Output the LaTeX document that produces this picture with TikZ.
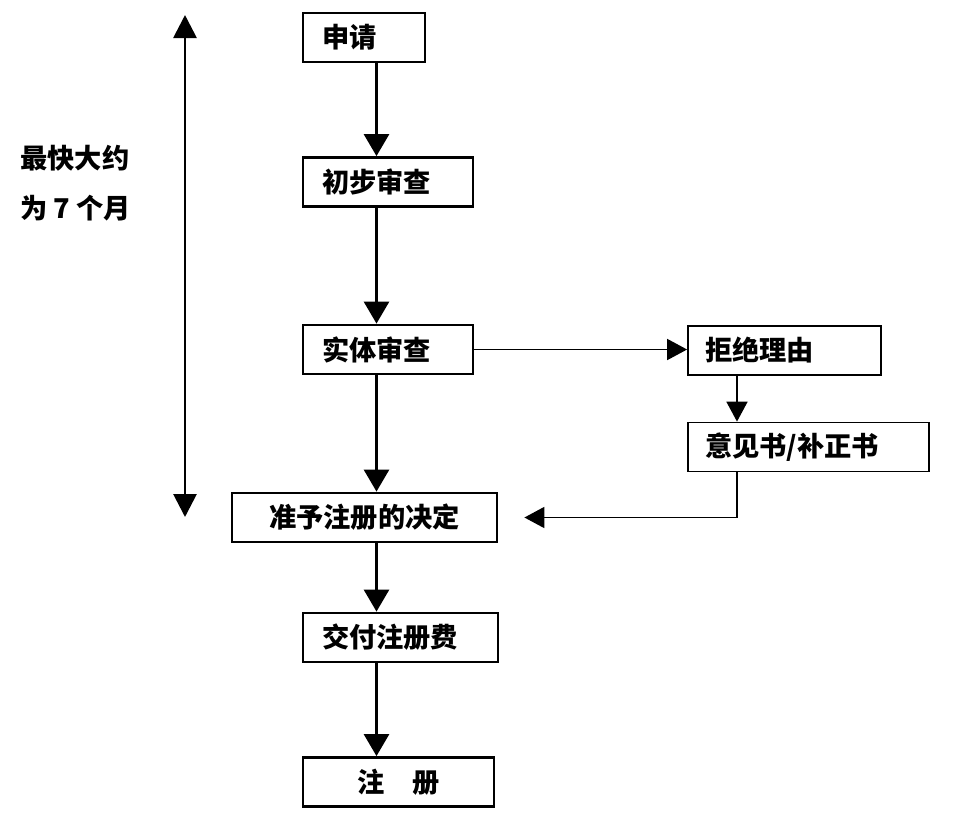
\documentclass[tikz,border=0pt]{standalone}
\usepackage{fontspec}
\setmainfont{Noto Sans CJK SC}
\usepackage{tikz}
\usetikzlibrary{positioning, arrows.meta, calc}
\definecolor{LineColor}{RGB}{0,0,0}
\tikzstyle{stepbox} = [draw=LineColor, line width=1.6pt, minimum height=0.98cm, inner xsep=0.38cm, align=left, font=\fontsize{15.5}{18}\selectfont\bfseries]
\tikzstyle{notebox} = [stepbox, line width=1pt, inner xsep=0.34cm]
\tikzstyle{flow} = [line width=1.6pt, LineColor, -{Triangle[width=0.5cm,length=0.44cm]}]
\tikzstyle{sideflow} = [line width=1pt, LineColor, -{Triangle[width=0.42cm,length=0.4cm]}]
\tikzstyle{span} = [line width=1.6pt, LineColor, {Triangle[width=0.46cm,length=0.46cm]}-{Triangle[width=0.46cm,length=0.46cm]}]

\begin{document}
\begin{tikzpicture}
    \useasboundingbox (0,0) rectangle (19.24,-16.44);
    % main column
    \node[stepbox, text width=1.68cm] (apply) at (7.28,-0.75) {申请};
    \node[stepbox, text width=2.64cm] (prelim) at (7.76,-3.64) {初步审查};
    \node[stepbox, text width=2.64cm] (exam) at (7.76,-6.99) {实体审查};
    \node[stepbox, text width=4.54cm, align=center] (grant) at (7.29,-10.35) {准予注册的决定};
    \node[stepbox, text width=3.14cm] (fee) at (8.01,-12.75) {交付注册费};
    \node[stepbox, text width=3.06cm, align=center] (reg) at (7.97,-15.64) {注\hspace{1em}册};
    \coordinate (spine) at (7.53,0);

    % refusal branch
    \node[notebox, text width=3.18cm] (refuse) at (15.69,-7.01) {拒绝理由};
    \node[notebox, text width=4.14cm] (opinion) at (16.17,-8.94) {意见书/补正书};
    \coordinate (side) at (14.74,0);
    \coordinate (back) at ($(grant.east)+(0.52,0)$);

    \draw[flow] (apply.south -| spine) -- (prelim.north -| spine);
    \draw[flow] (prelim.south -| spine) -- (exam.north -| spine);
    \draw[flow] (exam.south -| spine) -- (grant.north -| spine);
    \draw[flow] (grant.south -| spine) -- (fee.north -| spine);
    \draw[flow] (fee.south -| spine) -- (reg.north -| spine);

    \draw[sideflow] (exam.east) -- (exam.east -| refuse.west);
    \draw[sideflow] (refuse.south -| side) -- (opinion.north -| side);
    \draw[sideflow] (opinion.south -| side) |- (back);

    % time span
    \coordinate (spanTop) at (3.7,-0.3);
    \coordinate (spanBot) at (3.7,-10.34);
    \draw[span] (spanTop) -- (spanBot);
    \node[anchor=west, inner sep=0pt, align=left, font=\fontsize{15.5}{28.5}\selectfont\bfseries] (time) at (0.4,-3.66) {最快大约\\为 7 个月};
\end{tikzpicture}
\end{document}
